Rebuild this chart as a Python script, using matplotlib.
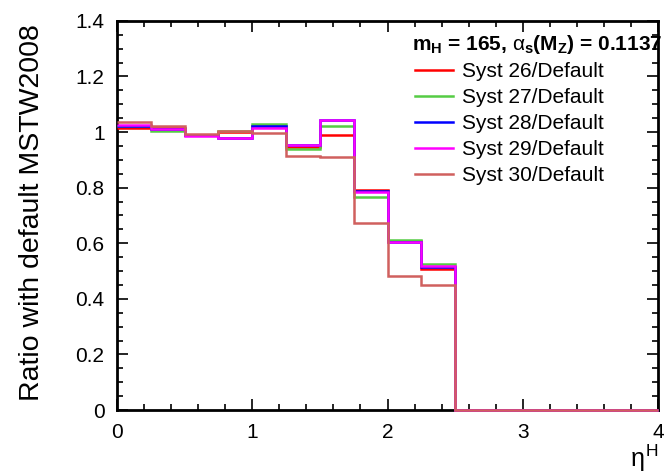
import matplotlib
matplotlib.use('Agg')
import matplotlib.pyplot as plt
from matplotlib.ticker import MultipleLocator

plt.rcParams['font.family'] = ['Liberation Sans', 'DejaVu Sans']
plt.rcParams['mathtext.fontset'] = 'custom'
plt.rcParams['mathtext.rm'] = 'Liberation Sans'
plt.rcParams['mathtext.it'] = 'Liberation Sans'  # upright greek like the original
plt.rcParams['mathtext.bf'] = 'Liberation Sans:bold'

# bin edges in eta^H
edges = [0.0, 0.25, 0.5, 0.75, 1.0, 1.25, 1.5, 1.75, 2.0, 2.25, 2.5,
         2.75, 3.0, 3.25, 3.5, 3.75, 4.0]

# ratios to default MSTW2008, one value per bin
syst26 = [1.015, 1.014, 0.990, 0.999, 1.023, 0.947, 0.989, 0.792, 0.607, 0.509, 0, 0, 0, 0, 0, 0]
syst27 = [1.020, 1.005, 0.990, 1.004, 1.028, 0.938, 1.022, 0.768, 0.611, 0.525, 0, 0, 0, 0, 0, 0]
syst28 = [1.022, 1.011, 0.988, 0.979, 1.021, 0.952, 1.043, 0.788, 0.604, 0.516, 0, 0, 0, 0, 0, 0]
syst29 = [1.024, 1.012, 0.987, 0.977, 1.014, 0.953, 1.044, 0.786, 0.603, 0.517, 0, 0, 0, 0, 0, 0]
syst30 = [1.037, 1.022, 0.993, 1.002, 0.995, 0.914, 0.911, 0.674, 0.481, 0.451, 0, 0, 0, 0, 0, 0]

labels = ['Syst 26/Default', 'Syst 27/Default', 'Syst 28/Default',
          'Syst 29/Default', 'Syst 30/Default']
colors = ['#ff0000', '#55cc44', '#0000ff', '#ff00ff', '#d0605e']

xticks = [0, 1, 2, 3, 4]
xticklabels = ['0', '1', '2', '3', '4']
yticks = [0, 0.2, 0.4, 0.6, 0.8, 1.0, 1.2, 1.4]
yticklabels = ['0', '0.2', '0.4', '0.6', '0.8', '1', '1.2', '1.4']

fig = plt.figure(figsize=(6.66, 4.74), dpi=100)
ax = fig.add_axes([0.1757, 0.135, 0.8123, 0.821])

for vals, lab, col in zip([syst26, syst27, syst28, syst29, syst30], labels, colors):
    ax.stairs(vals, edges, color=col, linewidth=1.8, label=lab, baseline=None,
              zorder=3, clip_on=False)

ax.set_xlim(0, 4)
ax.set_ylim(0, 1.4)
ax.set_xticks(xticks, labels=xticklabels)
ax.set_yticks(yticks, labels=yticklabels)
ax.xaxis.set_minor_locator(MultipleLocator(0.2))
ax.yaxis.set_minor_locator(MultipleLocator(0.05))
ax.tick_params(which='both', direction='in', top=True, right=True, labelsize=15, width=1.2)
ax.tick_params(which='major', length=8)
ax.tick_params(which='minor', length=4)
ax.tick_params(axis='x', pad=9)
ax.tick_params(axis='y', pad=9)
for s in ax.spines.values():
    s.set_linewidth(2)

fig.text(32 / 666, 1 - 213 / 474, 'Ratio with default MSTW2008', fontsize=20.5,
         rotation=90, ha='center', va='center')
fig.text(630 / 666, 1 - 467 / 474, r'$\eta^{\rm H}$', fontsize=18,
         ha='left', va='baseline')

# header text, runs off the right edge like in the original
fig.text(412 / 666, 1 - 50 / 474,
         r'm$_\mathbf{H}$ = 165, $\alpha_\mathbf{s}$(M$_\mathbf{Z}$) = 0.1137',
         fontsize=15, fontweight='bold', ha='left', va='baseline')

ax.legend(loc='upper left', bbox_to_anchor=(415 / 666, 1 - 62 / 474),
          bbox_transform=fig.transFigure, frameon=False,
          fontsize=15, handlelength=1.83, handletextpad=0.43, labelspacing=0.34,
          borderaxespad=0, borderpad=0)

fig.savefig('out.png', dpi=100)
